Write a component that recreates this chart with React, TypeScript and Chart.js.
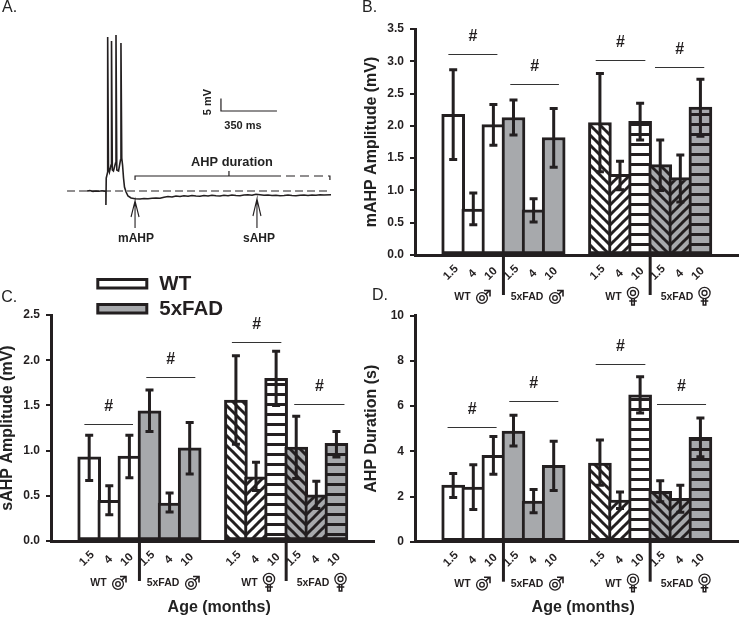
import React, { useEffect, useRef } from "react";
import { Chart, registerables } from "chart.js";
Chart.register(...registerables);

const FONT = '"Liberation Sans", Arial, sans-serif';
const INK = "#231f20";
const GRAY = "#a7a9ac";

// shared categories
const ageLabels = ["1.5", "4\u00A0\u00A0", "10\u00A0"];
const barSlots = [1.9, 2.9, 3.9, 4.9, 5.9, 6.9, 9.2, 10.2, 11.2, 12.2, 13.2, 14.2];
const barStyles = ["white", "white", "white", "gray", "gray", "gray", "back", "fwd", "horiz", "backGray", "fwdGray", "horizGray"];
const groupNames = ["WT", "5xFAD", "WT", "5xFAD"];
const separatorSlots = [4.4, 11.7];

// Panel B: mAHP amplitude
const bValues = [2.18, 0.71, 2.02, 2.13, 0.7, 1.82, 2.05, 1.25, 2.07, 1.4, 1.2, 2.29];
const bHigh = [2.87, 0.96, 2.33, 2.4, 0.87, 2.27, 2.81, 1.45, 2.35, 1.78, 1.55, 2.72];
const bLow = [1.48, 0.47, 1.7, 1.86, 0.51, 1.36, 1.29, 1.01, 1.78, 1.0, 0.82, 1.84];
const bSigY = [3.11, 2.65, 3.02, 2.91];
const bSigStart = [1.66, 4.74, 8.99, 11.94];
const bSigEnd = [4.1, 7.16, 11.46, 14.39];

// Panel C: sAHP amplitude
const cValues = [0.93, 0.45, 0.94, 1.44, 0.42, 1.03, 1.56, 0.71, 1.8, 1.04, 0.51, 1.08];
const cHigh = [1.17, 0.61, 1.17, 1.67, 0.53, 1.31, 2.05, 0.87, 2.1, 1.38, 0.66, 1.21];
const cLow = [0.67, 0.29, 0.7, 1.21, 0.32, 0.74, 1.07, 0.56, 1.5, 0.69, 0.36, 0.93];
const cSigY = [1.29, 1.81, 2.2, 1.52];
const cSigStart = [1.66, 4.74, 9.0, 12.1];
const cSigEnd = [4.08, 7.18, 11.46, 14.6];

// Panel D: AHP duration
const dValues = [2.5, 2.42, 3.82, 4.9, 1.8, 3.38, 3.48, 1.84, 6.5, 2.23, 1.92, 4.62];
const dHigh = [3.02, 3.4, 4.66, 5.59, 2.31, 4.45, 4.5, 2.2, 7.3, 2.7, 2.5, 5.47];
const dLow = [1.96, 1.43, 2.98, 4.23, 1.28, 2.27, 2.5, 1.47, 5.7, 1.77, 1.3, 3.76];
const dSigY = [5.06, 6.22, 7.88, 6.11];
const dSigStart = [1.62, 4.69, 8.99, 12.04];
const dSigEnd = [4.06, 7.13, 11.46, 14.48];

// Panel A: voltage trace (ms, mV relative to resting potential)
const traceTime = [544, 562, 581, 600, 619, 638, 656, 662, 662, 664, 673, 673, 678, 684, 694, 697, 702, 709, 722, 725, 730, 741, 753, 756, 761, 766, 772, 778, 788, 800, 819, 844, 875, 900, 925, 950, 975, 1000, 1025, 1050, 1075, 1100, 1125, 1150, 1175, 1200, 1225, 1250, 1275, 1300, 1325, 1350, 1375, 1400, 1425, 1450, 1475, 1500, 1525, 1550, 1575, 1600, 1625, 1650, 1675, 1700, 1725, 1750, 1775, 1800, 1825, 1850, 1875, 1900, 1925, 1950, 1975, 2000, 2025, 2069];
const traceVolt = [0, 0.16, -0.16, 0, -0.12, 0.08, -0.08, 0, -5.6, 5.2, 7.6, 61.6, 9.2, 7.6, 10.4, 60, 8.4, 8, 11.2, 62.4, 8.4, 8, 12.4, 59.2, 13.2, 10.4, 5.2, 1.6, -0.4, -2, -2.8, -3.1, -3.2, -3.0, -3.1, -2.9, -2.8, -2.9, -2.5, -2.2, -2.4, -2.0, -2.2, -1.9, -2.1, -1.8, -2.0, -2.1, -1.8, -2.0, -1.7, -1.9, -2.0, -1.7, -1.9, -1.6, -1.8, -1.9, -1.6, -1.5, -1.7, -1.3, -1.5, -1.7, -1.6, -1.8, -1.7, -1.9, -1.8, -1.6, -1.8, -1.9, -1.7, -1.6, -1.8, -1.6, -1.7, -1.5, -1.6, -1.5];
const baselineTime = [419, 2069];
const baselineVolt = [0, 0];
const bracketTime = [844, 844, 1700, null, 1431, 1431];
const bracketVolt = [4.4, 6, 6, null, 6, 8];
const bracketDashTime = [1700, 2062, 2062];
const bracketDashVolt = [6, 6, 4.4];
const scaleBarTime = [1381, 1381, 1731];
const scaleBarVolt = [37, 32, 32];
const arrowTime = [844, 844, 819, null, 844, 869, null, 1606, 1606, 1581, null, 1606, 1631];
const arrowVolt = [-14.8, -4, -10.4, null, -4, -10.4, null, -14.8, -3.2, -10, null, -3.2, -10];

const MS_MAX = 2187.5;
const MV_MAX = 76.4;
const MV_MIN = -31.6;

function makeStripe(kind: string, base: string, ctx: CanvasRenderingContext2D) {
  const tile = document.createElement("canvas");
  const size = 10;
  tile.width = size;
  tile.height = size;
  const t = tile.getContext("2d")!;
  t.fillStyle = base;
  t.fillRect(0, 0, size, size);
  t.fillStyle = INK;
  t.strokeStyle = INK;
  if (kind === "horiz") {
    t.fillRect(0, 3, size, 3);
  } else {
    t.lineWidth = 3;
    for (let k = -size; k <= size; k += size) {
      t.beginPath();
      if (kind === "back") {
        t.moveTo(k - 1, -1);
        t.lineTo(k + size + 1, size + 1);
      } else {
        t.moveTo(k - 1, size + 1);
        t.lineTo(k + size + 1, -1);
      }
      t.stroke();
    }
  }
  return ctx.createPattern(tile, "repeat")!;
}

function fillFor(style: string, ctx: CanvasRenderingContext2D) {
  switch (style) {
    case "white": return "#ffffff";
    case "gray": return GRAY;
    case "back": return makeStripe("back", "#ffffff", ctx);
    case "fwd": return makeStripe("fwd", "#ffffff", ctx);
    case "horiz": return makeStripe("horiz", "#ffffff", ctx);
    case "backGray": return makeStripe("back", GRAY, ctx);
    case "fwdGray": return makeStripe("fwd", GRAY, ctx);
    default: return makeStripe("horiz", GRAY, ctx);
  }
}

function maleSign(c: CanvasRenderingContext2D, x: number, y: number) {
  c.save();
  c.strokeStyle = INK;
  c.lineWidth = 1.3;
  c.beginPath(); c.arc(x - 1, y + 1, 5.4, 0, Math.PI * 2); c.stroke();
  c.beginPath(); c.arc(x - 1, y + 1, 2.3, 0, Math.PI * 2); c.stroke();
  c.lineWidth = 1.6;
  c.beginPath();
  c.moveTo(x + 2.5, y - 2.5); c.lineTo(x + 6, y - 6);
  c.moveTo(x + 1, y - 6.5); c.lineTo(x + 7, y - 6.5); c.lineTo(x + 7, y - 0.5);
  c.stroke();
  c.restore();
}

function femaleSign(c: CanvasRenderingContext2D, x: number, y: number) {
  c.save();
  c.strokeStyle = INK;
  c.lineWidth = 1.3;
  c.beginPath(); c.arc(x, y - 3, 5.6, 0, Math.PI * 2); c.stroke();
  c.beginPath(); c.arc(x, y - 3, 2.5, 0, Math.PI * 2); c.stroke();
  c.lineWidth = 1.5;
  c.beginPath();
  c.moveTo(x - 1.3, y + 2.6); c.lineTo(x - 1.3, y + 9); c.lineTo(x + 1.3, y + 9); c.lineTo(x + 1.3, y + 2.6);
  c.moveTo(x - 3.8, y + 5); c.lineTo(x + 3.8, y + 5);
  c.stroke();
  c.restore();
}

type PanelCfg = {
  axisX: number; axisY: number; top: number; height: number; yMax: number; yStep: number; decimals: number;
  title: string; values: number[]; high: number[]; low: number[];
  sigY: number[]; sigStart: number[]; sigEnd: number[]; letter: string; letterX: number; letterY: number;
  xTitle: boolean; legend: boolean; plotHeight: number; left: number;
};

function makePanel(canvas: HTMLCanvasElement, cfg: PanelCfg) {
  const ctx = canvas.getContext("2d")!;
  const W = 60 + 323 + 4;
  const H = cfg.height;
  canvas.width = W;
  canvas.height = H;
  canvas.style.cssText = `position:absolute;left:${cfg.left}px;top:${cfg.top}px;width:${W}px;height:${H}px;`;
  const overlay = {
    id: "overlay",
    afterDatasetsDraw(chart: any) {
      const c = chart.ctx as CanvasRenderingContext2D;
      const x = chart.scales.x;
      const y = chart.scales.y;
      const zero = y.getPixelForValue(0);
      c.save();
      // error bars
      c.strokeStyle = INK;
      c.lineWidth = 3;
      barSlots.forEach((slot, i) => {
        const px = x.getPixelForValue(slot);
        const hi = y.getPixelForValue(cfg.high[i]);
        const lo = y.getPixelForValue(cfg.low[i]);
        c.beginPath();
        c.moveTo(px, hi); c.lineTo(px, lo);
        c.moveTo(px - 4, hi); c.lineTo(px + 4, hi);
        c.moveTo(px - 4, lo); c.lineTo(px + 4, lo);
        c.stroke();
      });
      // significance bars and marks
      c.fillStyle = INK;
      c.textAlign = "center";
      c.textBaseline = "middle";
      cfg.sigY.forEach((v, i) => {
        const py = Math.round(y.getPixelForValue(v)) + 0.5;
        const x1 = x.getPixelForValue(cfg.sigStart[i]);
        const x2 = x.getPixelForValue(cfg.sigEnd[i]);
        c.strokeStyle = "#333";
        c.lineWidth = 1.1;
        c.beginPath(); c.moveTo(x1, py); c.lineTo(x2, py); c.stroke();
        c.font = `bold 16px ${FONT}`;
        c.fillText("#", (x1 + x2) / 2, py - 18);
      });
      // group separators
      c.strokeStyle = INK;
      c.lineWidth = 3;
      separatorSlots.forEach((slot) => {
        const px = x.getPixelForValue(slot);
        c.beginPath(); c.moveTo(px, zero); c.lineTo(px, zero + 40); c.stroke();
      });
      // group labels
      c.font = `bold 10.5px ${FONT}`;
      const ax = x.left;
      const gy = zero + 42;
      c.fillText(groupNames[0], ax + 47.5, gy);
      c.fillText(groupNames[1], ax + 112, gy);
      c.fillText(groupNames[2], ax + 198.5, gy);
      c.fillText(groupNames[3], ax + 262, gy);
      maleSign(c, ax + 68, gy);
      maleSign(c, ax + 141, gy);
      femaleSign(c, ax + 218, gy - 1);
      femaleSign(c, ax + 289.5, gy - 1);
      // panel letter
      c.font = `16px ${FONT}`;
      c.textAlign = "left";
      c.fillStyle = "#222";
      c.fillText(cfg.letter, cfg.letterX - cfg.left, cfg.letterY - cfg.top);
      if (cfg.legend) {
        const ox = -cfg.left;
        const oy = -cfg.top;
        c.lineWidth = 3;
        c.strokeStyle = INK;
        c.fillStyle = "#ffffff";
        c.fillRect(97.5 + ox, 279.5 + oy, 49, 8.5);
        c.strokeRect(97.5 + ox, 279.5 + oy, 49, 8.5);
        c.fillStyle = GRAY;
        c.fillRect(97.5 + ox, 304.5 + oy, 49, 8.5);
        c.strokeRect(97.5 + ox, 304.5 + oy, 49, 8.5);
        c.fillStyle = INK;
        c.font = `bold 20.5px ${FONT}`;
        c.fillText("WT", 159 + ox, 284 + oy);
        c.fillText("5xFAD", 159 + ox, 309.5 + oy);
      }
      c.restore();
    },
  };
  const fmt = (v: number) => (cfg.decimals ? Number(v).toFixed(cfg.decimals) : String(v));
  return new Chart(canvas, {
    type: "bar",
    data: {
      datasets: [{
        data: barSlots.map((s, i) => ({ x: s, y: cfg.values[i] })),
        backgroundColor: barStyles.map((s) => fillFor(s, ctx)),
        borderColor: INK,
        borderWidth: 3,
        borderSkipped: false,
        barThickness: 23,
      }],
    } as any,
    options: {
      responsive: false,
      animation: false,
      devicePixelRatio: 1,
      layout: { padding: { top: cfg.axisY - cfg.plotHeight - cfg.top, right: 4, left: 0, bottom: 0 } },
      plugins: { legend: { display: false }, tooltip: { enabled: false } },
      scales: {
        x: {
          type: "linear",
          min: 0,
          max: 323 / 20.1,
          offset: false,
          grid: { display: false, offset: false, drawTicks: false },
          border: { display: true, color: INK, width: 3 },
          afterBuildTicks(scale: any) {
            const shift = [0.17, 0.3, 0.22];
            scale.ticks = barSlots.map((s, i) => ({ value: s + shift[i % 3] }));
          },
          afterFit(scale: any) { scale.height = cfg.top + H - cfg.axisY; },
          ticks: {
            autoSkip: false,
            maxRotation: 45,
            minRotation: 45,
            padding: 7,
            color: INK,
            font: { family: FONT, size: 11.5, weight: "bold" },
            callback: (_v: any, i: number) => ageLabels[i % 3],
          },
          title: cfg.xTitle
            ? { display: true, text: "\u00A0\u00A0\u00A0Age (months)", color: "#222", font: { family: FONT, size: 16, weight: "bold" }, padding: 0 }
            : { display: false },
        },
        y: {
          min: 0,
          max: cfg.yMax,
          grid: { drawOnChartArea: false, drawTicks: true, tickLength: 5, color: INK, lineWidth: 2 },
          border: { display: true, color: INK, width: 3 },
          afterFit(scale: any) { scale.width = 60; },
          ticks: {
            stepSize: cfg.yStep,
            padding: 6,
            color: INK,
            font: { family: FONT, size: 12, weight: "bold" },
            callback: (v: any) => fmt(v),
          },
          title: { display: true, text: cfg.title, color: "#222", font: { family: FONT, size: 16, weight: "bold" }, padding: { top: 7, bottom: 0 } },
        },
      },
    } as any,
    plugins: [overlay],
  });
}

function pairs(xs: (number | null)[], ys: (number | null)[]) {
  return xs.map((x, i) => (x === null ? { x: NaN, y: NaN } : { x, y: ys[i] }));
}

function makeTrace(canvas: HTMLCanvasElement) {
  canvas.width = 350;
  canvas.height = 270;
  canvas.style.cssText = "position:absolute;left:0;top:0;width:350px;height:270px;";
  const line = (xs: any[], ys: any[], width: number, dash: number[] = []) => ({
    data: pairs(xs, ys), showLine: true, pointRadius: 0, borderColor: INK, borderWidth: width, borderDash: dash, spanGaps: false, tension: 0, fill: false,
  });
  const labels = {
    id: "labels",
    afterDatasetsDraw(chart: any) {
      const c = chart.ctx as CanvasRenderingContext2D;
      c.save();
      c.fillStyle = "#222";
      c.textAlign = "center";
      c.textBaseline = "middle";
      c.font = `bold 12.8px ${FONT}`;
      c.fillText("AHP duration", 232, 162);
      c.font = `bold 12px ${FONT}`;
      c.fillText("mAHP", 136, 239);
      c.fillText("sAHP", 259, 239);
      c.font = `bold 11px ${FONT}`;
      c.fillText("350 ms", 243, 125.5);
      c.save();
      c.translate(207.5, 102);
      c.rotate(-Math.PI / 2);
      c.fillText("5 mV", 0, 0);
      c.restore();
      c.font = `16px ${FONT}`;
      c.textAlign = "left";
      c.fillStyle = "#222";
      c.fillText("A.", 2, 8);
      c.restore();
    },
  };
  return new Chart(canvas, {
    type: "scatter",
    data: {
      datasets: [
        line(baselineTime, baselineVolt, 1.2, [8, 4]),
        line(traceTime, traceVolt, 1.6),
        line(bracketTime, bracketVolt, 1.2),
        line(bracketDashTime, bracketDashVolt, 1.2, [9, 5]),
        line(scaleBarTime, scaleBarVolt, 1.2),
        line(arrowTime, arrowVolt, 1.1),
      ],
    } as any,
    options: {
      responsive: false,
      animation: false,
      devicePixelRatio: 1,
      layout: { padding: 0 },
      plugins: { legend: { display: false }, tooltip: { enabled: false } },
      scales: {
        x: { type: "linear", display: false, min: 0, max: MS_MAX },
        y: { type: "linear", display: false, min: MV_MIN, max: MV_MAX },
      },
    } as any,
    plugins: [labels],
  });
}

export default function App() {
  const aRef = useRef<HTMLCanvasElement>(null);
  const bRef = useRef<HTMLCanvasElement>(null);
  const cRef = useRef<HTMLCanvasElement>(null);
  const dRef = useRef<HTMLCanvasElement>(null);
  useEffect(() => {
    const charts = [
      makeTrace(aRef.current!),
      makePanel(bRef.current!, {
        left: 355, axisX: 415, axisY: 255, top: 0, height: 312, plotHeight: 226, yMax: 3.5, yStep: 0.5, decimals: 1,
        title: "mAHP Amplitude (mV)", values: bValues, high: bHigh, low: bLow, sigY: bSigY, sigStart: bSigStart, sigEnd: bSigEnd,
        letter: "B.", letterX: 362, letterY: 8, xTitle: false, legend: false,
      }),
      makePanel(cRef.current!, {
        left: -9.3, axisX: 50.7, axisY: 541, top: 270, height: 347, plotHeight: 226, yMax: 2.5, yStep: 0.5, decimals: 1,
        title: "sAHP Amplitude (mV)", values: cValues, high: cHigh, low: cLow, sigY: cSigY, sigStart: cSigStart, sigEnd: cSigEnd,
        letter: "C.", letterX: 1, letterY: 298, xTitle: true, legend: true,
      }),
      makePanel(dRef.current!, {
        left: 355, axisX: 415, axisY: 541.7, top: 285, height: 332, plotHeight: 226, yMax: 10, yStep: 2, decimals: 0,
        title: "AHP Duration (s)", values: dValues, high: dHigh, low: dLow, sigY: dSigY, sigStart: dSigStart, sigEnd: dSigEnd,
        letter: "D.", letterX: 372, letterY: 296, xTitle: true, legend: false,
      }),
    ];
    return () => charts.forEach((c) => c.destroy());
  }, []);
  return (
    <div style={{ position: "absolute", left: 0, top: 0, width: 742, height: 617, overflow: "hidden", background: "#fff" }}>
      <canvas ref={aRef} />
      <canvas ref={cRef} />
      <canvas ref={bRef} />
      <canvas ref={dRef} />
    </div>
  );
}
